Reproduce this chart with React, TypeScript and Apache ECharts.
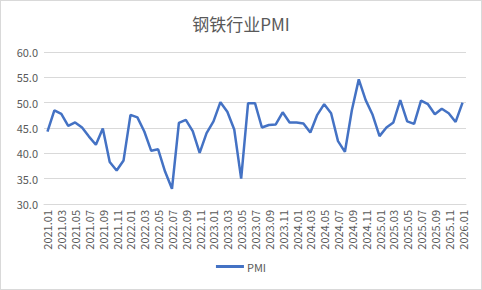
import React, { useEffect, useRef } from "react";
import * as echarts from "echarts";

const months: string[] = [];
for (let y = 2021; y <= 2026; y++) {
  for (let m = 1; m <= 12; m++) {
    if (y === 2026 && m > 1) break;
    months.push(`${y}.${m < 10 ? "0" + m : m}`);
  }
}

const pmiValues = [
  44.3, 48.5, 47.8, 45.4, 46.1, 45.1, 43.3, 41.7, 44.9, 38.3, 36.6, 38.6,
  47.6, 47.1, 44.3, 40.5, 40.8, 36.4, 33.0, 46.0, 46.6, 44.4, 40.1, 44.0,
  46.3, 50.1, 48.2, 44.7, 35.0, 49.9, 49.9, 45.1, 45.6, 45.7, 48.1, 46.1,
  46.1, 45.9, 44.1, 47.6, 49.7, 47.9, 42.4, 40.3, 48.5, 54.6, 50.5, 47.6,
  43.4, 45.1, 46.1, 50.5, 46.3, 45.8, 50.4, 49.7, 47.7, 48.8, 47.9, 46.2,
  50.0,
];

const titleText = "钢铁行业PMI";
const seriesName = "PMI";

export default function App() {
  const ref = useRef<HTMLDivElement>(null);
  useEffect(() => {
    document.body.style.margin = "0";
    if (!ref.current) return;
    const chart = echarts.init(ref.current, undefined, { renderer: "svg" });
    const font = "'Noto Sans CJK SC', 'Noto Sans', sans-serif";
    chart.setOption({
      animation: false,
      backgroundColor: "#ffffff",
      title: {
        text: titleText,
        left: "center",
        top: 9,
        textStyle: { fontSize: 17, fontWeight: "normal", color: "#595959", fontFamily: font },
      },
      legend: {
        bottom: 12,
        left: "center",
        itemWidth: 28,
        itemHeight: 3,
        icon: "rect",
        itemGap: 4,
        textStyle: { fontSize: 11, color: "#595959", fontFamily: font, padding: [0, 0, 0, -2] },
        data: [seriesName],
      },
      grid: { left: 43, right: 15, top: 51, bottom: 85, containLabel: false },
      xAxis: {
        type: "category",
        data: months,
        boundaryGap: true,
        axisLine: { lineStyle: { color: "#d9d9d9" } },
        axisTick: { show: false },
        axisLabel: {
          interval: 1,
          rotate: 90,
          fontSize: 11,
          color: "#595959",
          margin: 6,
          fontFamily: font,
        },
      },
      yAxis: {
        type: "value",
        min: 30,
        max: 60,
        interval: 5,
        axisLine: { show: false },
        axisTick: { show: false },
        axisLabel: {
          formatter: (v: number) => v.toFixed(1),
          fontSize: 11,
          color: "#595959",
          margin: 6,
          fontFamily: font,
        },
        splitLine: { lineStyle: { color: "#d9d9d9", width: 1 } },
      },
      series: [
        {
          name: seriesName,
          type: "line",
          data: pmiValues,
          showSymbol: false,
          symbol: "none",
          lineStyle: { color: "#4472C4", width: 2.5 },
          itemStyle: { color: "#4472C4" },
        },
      ],
    });
    return () => chart.dispose();
  }, []);
  return (
    <div
      style={{
        width: 482,
        height: 290,
        boxSizing: "border-box",
        border: "1px solid #d9d9d9",
        background: "#fff",
      }}
    >
      <div ref={ref} style={{ width: 480, height: 288 }} />
    </div>
  );
}
